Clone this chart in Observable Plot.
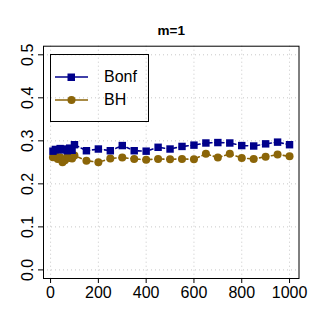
<!DOCTYPE html>
<html>
<head>
<meta charset="utf-8">
<script src="https://cdn.jsdelivr.net/npm/d3@7"></script>
<script src="https://cdn.jsdelivr.net/npm/@observablehq/plot@0.6"></script>
<style>
  html, body { margin: 0; padding: 0; background: #fff; }
  #wrap { position: relative; width: 321px; height: 334px; font-family: "Liberation Sans", Arial, Helvetica, sans-serif; }
  #legend { position: absolute; left: 50px; top: 54px; width: 97px; height: 66px; border: 1px solid #000; box-sizing: content-box; }
  #legend .row { position: absolute; left: 0; height: 20px; }
  #legend span { position: absolute; left: 53px; font-size: 16px; line-height: 20px; color: #000; }
</style>
</head>
<body>
<div id="wrap"></div>
<script>
const title = "m=1";
const n = [10,20,30,40,50,60,70,80,90,100,150,200,250,300,350,400,450,500,550,600,650,700,750,800,850,900,950,1000];
const bonf = [0.276,0.280,0.279,0.282,0.281,0.279,0.277,0.283,0.278,0.291,0.277,0.281,0.277,0.289,0.277,0.276,0.285,0.281,0.287,0.290,0.295,0.296,0.295,0.289,0.288,0.293,0.297,0.291];
const bh = [0.262,0.265,0.258,0.262,0.250,0.255,0.263,0.260,0.259,0.266,0.254,0.250,0.259,0.261,0.258,0.256,0.258,0.257,0.258,0.257,0.270,0.261,0.270,0.260,0.258,0.263,0.268,0.264];
const seriesNames = ["Bonf", "BH"];
const seriesColors = ["#00008B", "#8B6508"];
const xTicks = [0,200,400,600,800,1000];
const yTicks = [0,0.1,0.2,0.3,0.4,0.5];

const rowsBonf = n.map((x, i) => ({x, y: bonf[i]}));
const rowsBH = n.map((x, i) => ({x, y: bh[i]}));

const font = '"Liberation Sans", Arial, Helvetica, sans-serif';

const chart = Plot.plot({
  width: 321,
  height: 334,
  marginLeft: 43,
  marginRight: 22.5,
  marginTop: 45.7,
  marginBottom: 56,
  style: { fontFamily: font, fontSize: "16px", background: "white", color: "black" },
  x: { domain: [-29.6, 1039.6] },
  y: { domain: [-0.02, 0.52] },
  marks: [
    Plot.gridX(xTicks, { stroke: "#c8c8c8", strokeOpacity: 1, strokeDasharray: "1,3" }),
    Plot.gridY(yTicks, { stroke: "#c8c8c8", strokeOpacity: 1, strokeDasharray: "1,3" }),
    Plot.frame({ stroke: "black", strokeWidth: 1 }),
    Plot.axisX(xTicks, { tickSize: 5, tickPadding: 3, label: null, tickFormat: d => String(d), fontSize: 16 }),
    Plot.axisY(yTicks, { tickSize: 5, tickPadding: 6, tickRotate: -90, label: null, tickFormat: d => d.toFixed(1), fontSize: 16 }),
    Plot.line(rowsBH, { x: "x", y: "y", stroke: seriesColors[1], strokeWidth: 1.6, strokeDasharray: "3,3" }),
    Plot.dot(rowsBH, { x: "x", y: "y", fill: seriesColors[1], r: 4, symbol: "circle" }),
    Plot.line(rowsBonf, { x: "x", y: "y", stroke: seriesColors[0], strokeWidth: 1.6, strokeDasharray: "3,3" }),
    Plot.dot(rowsBonf, { x: "x", y: "y", fill: seriesColors[0], r: 4.2, symbol: "square" }),
    Plot.text([title], { frameAnchor: "top", dy: -21, text: d => d, fontWeight: "bold", fontSize: 13.5 })
  ]
});

const wrap = document.getElementById("wrap");
wrap.appendChild(chart);

const legend = document.createElement("div");
legend.id = "legend";
seriesNames.forEach((name, i) => {
  const row = document.createElement("div");
  row.className = "row";
  row.style.top = (i === 0 ? 11.7 : 35.3) + "px";
  const sym = i === 0
    ? `<rect x="16.5" y="6.5" width="7.5" height="7.5" fill="${seriesColors[i]}"/>`
    : `<circle cx="20.5" cy="10" r="4" fill="${seriesColors[i]}"/>`;
  row.innerHTML = `<svg width="45" height="20" style="position:absolute;left:0;top:0"><line x1="4" x2="37" y1="10" y2="10" stroke="${seriesColors[i]}" stroke-width="1.6"/>${sym}</svg><span>${name}</span>`;
  legend.appendChild(row);
});
wrap.appendChild(legend);
</script>
</body>
</html>
